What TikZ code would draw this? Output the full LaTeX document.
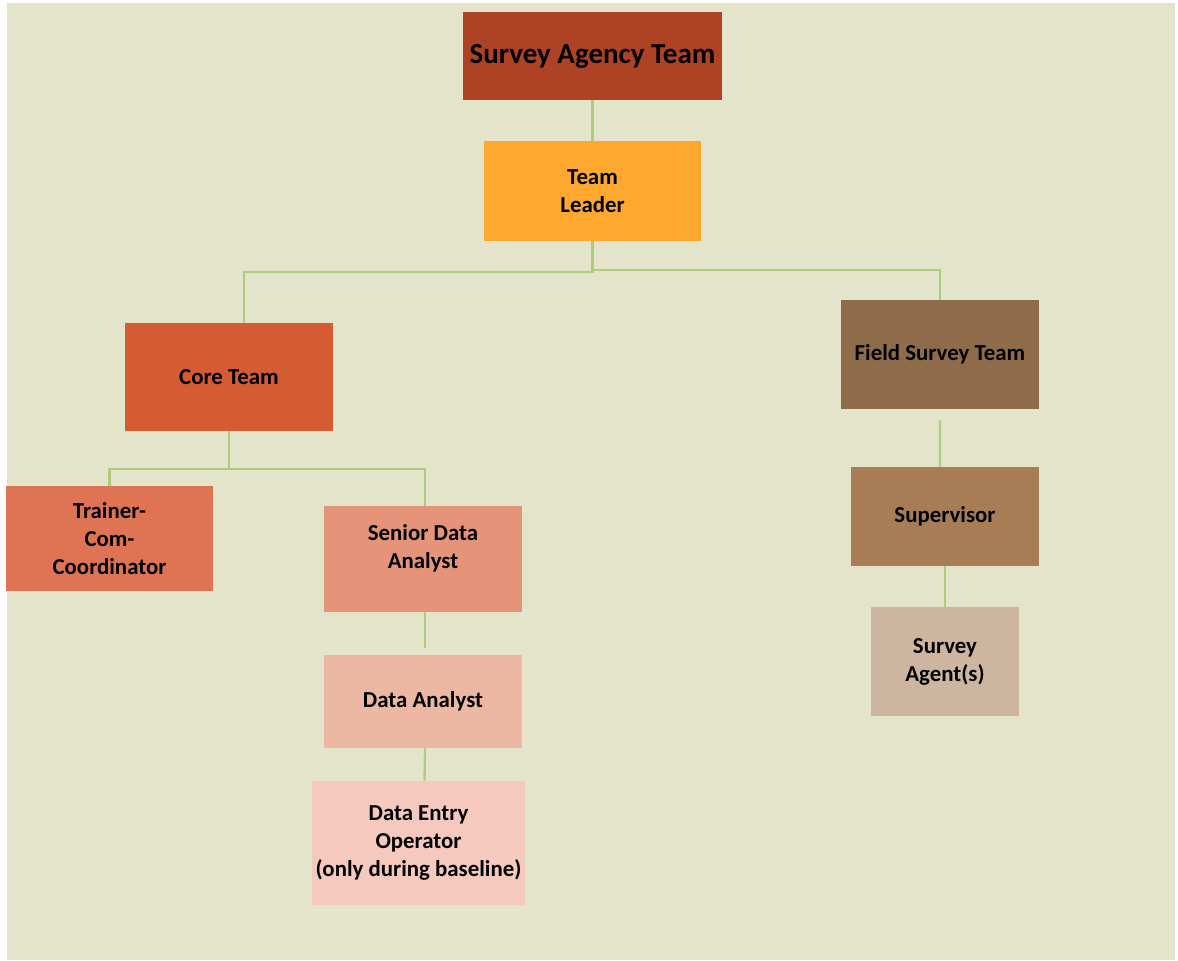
\documentclass[tikz,border=0pt]{standalone}
\usepackage{fontspec}
\setmainfont{Carlito}
\definecolor{bgbeige}{HTML}{E4E4CB}
\definecolor{linkgreen}{HTML}{AECB7E}
\definecolor{agencyc}{HTML}{AE4224}
\definecolor{leaderc}{HTML}{FFA82F}
\definecolor{corec}{HTML}{D55B33}
\definecolor{fieldc}{HTML}{8F6C49}
\definecolor{trainerc}{HTML}{DF7455}
\definecolor{seniorc}{HTML}{E59479}
\definecolor{analystc}{HTML}{ECB8A3}
\definecolor{entryc}{HTML}{F5C9BD}
\definecolor{supervc}{HTML}{A87D55}
\definecolor{agentc}{HTML}{CEB59F}
\begin{document}
\begin{tikzpicture}[
        box/.style={rectangle,inner sep=2pt,align=center,font=\fontsize{13}{16}\selectfont\bfseries,anchor=center},
        link/.style={draw=linkgreen,line width=1.3pt}]
        \useasboundingbox (0,0) rectangle (23.56,-19.2);
        \fill[white] (0,0) rectangle (23.56,-19.2);
        \fill[bgbeige] (0.14,-0.06) rectangle (23.5,-19.2);
        % top of the tree
        \node[box,fill=agencyc,minimum width=5.18cm,minimum height=1.76cm,font=\fontsize{16.5}{20}\selectfont\bfseries] (agency) at (11.85,-1.12) {Survey Agency Team};
        \node[box,fill=leaderc,minimum width=4.34cm,minimum height=2cm] (leader) at (11.85,-3.82) {Team\\ Leader};
        % two branches
        \node[box,fill=corec,minimum width=4.16cm,minimum height=2.16cm] (core) at (4.58,-7.54) {Core Team};
        \node[box,fill=fieldc,minimum width=3.96cm,minimum height=2.18cm] (field) at (18.8,-7.09) {Field Survey Team};
        % core team side
        \node[box,fill=trainerc,minimum width=4.14cm,minimum height=2.1cm] (trainer) at (2.19,-10.77) {Trainer-\\Com-\\Coordinator};
        \node[box,fill=seniorc,minimum width=3.96cm,minimum height=2.12cm,text depth=0.5cm] (senior) at (8.46,-11.18) {Senior Data\\Analyst};
        \node[box,fill=analystc,minimum width=3.96cm,minimum height=1.86cm] (analyst) at (8.46,-14.03) {Data Analyst};
        \node[box,fill=entryc,minimum width=4.14cm,minimum height=2.48cm] (entry) at (8.37,-16.86) {Data Entry\\Operator\\(only during baseline)};
        % field side
        \node[box,fill=supervc,minimum width=3.76cm,minimum height=1.98cm] (superv) at (18.9,-10.33) {Supervisor};
        \node[box,fill=agentc,minimum width=2.96cm,minimum height=2.18cm] (agent) at (18.9,-13.23) {Survey\\Agent(s)};
        % connectors
        \draw[link] (agency.south) -- (leader.north);
        \draw[link] (leader.south) -- ++(0,-0.62) -| ([xshift=0.3cm]core.north);
        \draw[link] (leader.south) -- ++(0,-0.58) -| (field.north);
        \draw[link] (core.south) -- ++(0,-0.76) -| (trainer.north);
        \draw[link] (core.south) -- ++(0,-0.76) -| ([xshift=0.04cm]senior.north);
        \draw[link,shorten >=0.14cm] ([xshift=0.04cm]senior.south) -- ([xshift=0.04cm]analyst.north);
        \draw[link] ([xshift=0.04cm]analyst.south) -- ([xshift=0.12cm]entry.north);
        \draw[link,shorten <=0.22cm] (field.south) -- ([xshift=-0.1cm]superv.north);
        \draw[link] (superv.south) -- (agent.north);
    \end{tikzpicture}
\end{document}
